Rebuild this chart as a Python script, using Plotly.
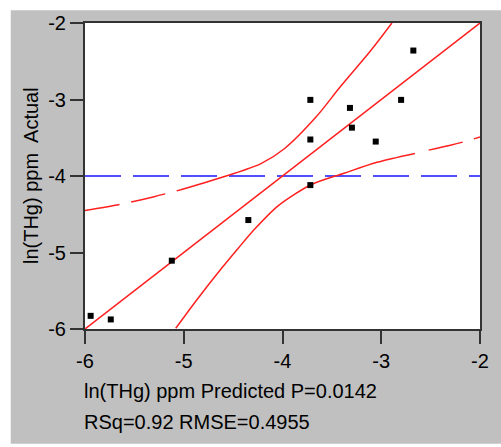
import plotly.graph_objects as go

# ---- data ----
pred_x = [-2.675, -3.718, -3.317, -2.799, -3.297, -3.718, -3.056, -3.718, -4.346, -5.121, -5.943, -5.739]
actual_y = [-2.36, -3.005, -3.11, -3.005, -3.368, -3.523, -3.55, -4.119, -4.576, -5.107, -5.828, -5.875]

fit_x = [-6, -2]
fit_y = [-6, -2]

mean_x = [-6, -2]
mean_y = [-4.0, -4.0]

upper_dash_x = [-6.0, -5.649, -5.3, -5.03]
upper_dash_y = [-4.451, -4.373, -4.27, -4.18]
upper_solid_x = [-5.03, -4.546, -4.213, -3.978, -3.661, -3.411, -3.110, -2.892]
upper_solid_y = [-4.18, -3.99, -3.834, -3.64, -3.23, -2.828, -2.366, -2.0]

lower_solid_x = [-5.081, -4.88, -4.613, -4.446, -4.279, -4.045, -3.711, -3.377, -3.043, -2.659]
lower_solid_y = [-5.991, -5.64, -5.20, -4.94, -4.69, -4.39, -4.114, -3.964, -3.821, -3.705]
lower_dash_x = [-2.52, -2.3, -2.14, -2.0]
lower_dash_y = [-3.662, -3.598, -3.545, -3.489]

tick_vals = [-6, -5, -4, -3, -2]
tick_text = ["-6", "-5", "-4", "-3", "-2"]

x_title_1 = "ln(THg) ppm Predicted P=0.0142"
x_title_2 = "RSq=0.92 RMSE=0.4955"
y_title = "ln(THg) ppm\u00a0 Actual"

RED = "#ff2020"
BLUE = "#5050ff"
FONT = "Liberation Sans, Arial, sans-serif"
FS = 20

fig = go.Figure()

fig.add_trace(go.Scatter(x=mean_x, y=mean_y, mode="lines",
                         line=dict(color=BLUE, width=2.2, dash="36px,12px"), hoverinfo="skip"))
fig.add_trace(go.Scatter(x=fit_x, y=fit_y, mode="lines",
                         line=dict(color=RED, width=1.5), hoverinfo="skip"))
for xs, ys, dash in [(upper_dash_x, upper_dash_y, "35px,12px"),
                     (upper_solid_x, upper_solid_y, "solid"),
                     (lower_solid_x, lower_solid_y, "solid"),
                     (lower_dash_x, lower_dash_y, "35px,12px")]:
    fig.add_trace(go.Scatter(x=xs, y=ys, mode="lines",
                             line=dict(color=RED, width=1.5, dash=dash, shape="spline", smoothing=0.8),
                             hoverinfo="skip"))
fig.add_trace(go.Scatter(x=pred_x, y=actual_y, mode="markers",
                         marker=dict(symbol="square", size=6, color="black"), hoverinfo="skip"))

# plot area geometry (pixels)
L, R, T, B = 85, 17, 20, 118
W, H = 501, 447
pw, ph = W - L - R, H - T - B

def px_x(p):
    return (p - L) / pw

def px_y(p):
    return (H - B - p) / ph

shapes = [
    dict(type="rect", xref="paper", yref="paper", layer="below",
         x0=px_x(10), x1=px_x(W + 5), y0=px_y(445), y1=px_y(7),
         fillcolor="#c0c0c0", line=dict(width=0)),
    dict(type="rect", xref="paper", yref="paper", layer="below",
         x0=0, x1=1, y0=0, y1=1, fillcolor="white", line=dict(width=0)),
]

axis_common = dict(
    range=[-6, -2], tickvals=tick_vals, ticktext=tick_text,
    showgrid=False, zeroline=False, showline=True, mirror=True,
    linecolor="#333333", linewidth=2, ticks="outside", ticklen=13,
    tickwidth=2, tickcolor="#333333",
    tickfont=dict(family=FONT, size=FS, color="black"),
)

fig.update_layout(
    width=W, height=H,
    margin=dict(l=L, r=R, t=T, b=B),
    paper_bgcolor="white", plot_bgcolor="rgba(0,0,0,0)",
    showlegend=False,
    shapes=shapes,
    xaxis=dict(**axis_common),
    yaxis=dict(**axis_common),
    font=dict(family=FONT, size=FS, color="black"),
    annotations=[
        dict(text=x_title_1, xref="paper", yref="paper", x=px_x(82), y=px_y(392),
             xanchor="left", yanchor="middle", showarrow=False,
             font=dict(family=FONT, size=FS, color="black")),
        dict(text=x_title_2, xref="paper", yref="paper", x=px_x(82), y=px_y(423),
             xanchor="left", yanchor="middle", showarrow=False,
             font=dict(family=FONT, size=FS, color="black")),
        dict(text=y_title, xref="paper", yref="paper", x=px_x(30), y=px_y(174),
             xanchor="center", yanchor="middle", textangle=-90, showarrow=False,
             font=dict(family=FONT, size=FS, color="black")),
    ],
)

fig.write_html("out.html", config={"displayModeBar": False},
               post_script="document.body.style.margin='0';document.body.style.overflow='hidden';")
